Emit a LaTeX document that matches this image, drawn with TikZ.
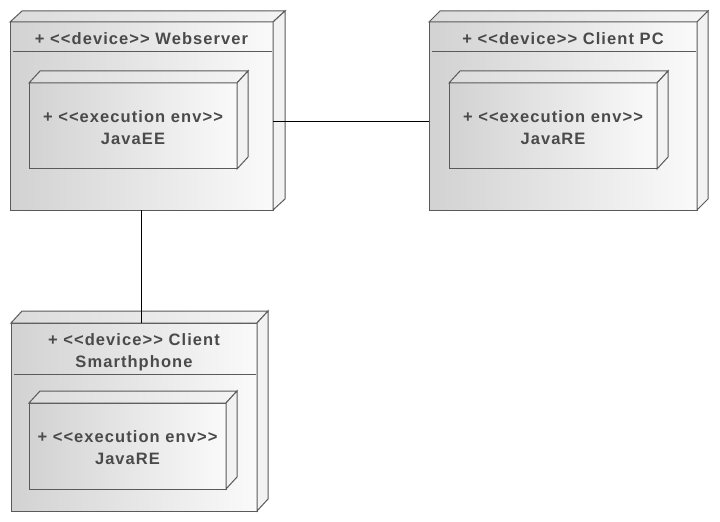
\documentclass[tikz,border=0pt]{standalone}
\usepackage{fontspec}
\newfontfamily\lblfont{Liberation Sans Bold}[LetterSpace=6.5, Ligatures=TeXOff]
\usetikzlibrary{calc}
\definecolor{edgec}{HTML}{5A5A5A}
\definecolor{txtc}{HTML}{4A4A4A}
\definecolor{faceL}{HTML}{D2D2D2}
\definecolor{faceR}{HTML}{FAFAFA}
\definecolor{topL}{HTML}{DCDCDC}
\definecolor{topR}{HTML}{F4F4F4}
\definecolor{sideC}{HTML}{F2F2F2}
\newcommand\extrude[3]{%
  \draw[topface] (#1.north west) -- ++(#2,-#3) -- ($(#1.north east)+(#2,-#3)$) -- (#1.north east) -- cycle;
  \draw[sideface] (#1.north east) -- ++(#2,-#3) -- ($(#1.south east)+(#2,-#3)$) -- (#1.south east) -- cycle;}
\begin{document}
\begin{tikzpicture}[x=1bp,y=-1bp,
  face/.style={draw=edgec, line width=1bp, left color=faceL, right color=faceR, outer sep=0pt, inner sep=0pt, anchor=north west},
  topface/.style={draw=edgec, line width=1bp, left color=topL, right color=topR, line join=miter},
  sideface/.style={draw=edgec, line width=1bp, fill=sideC, line join=miter},
  divider/.style={draw=edgec, line width=1bp},
  lbl/.style={text=txtc, font=\lblfont\fontsize{16.5bp}{22bp}\selectfont, align=center, inner sep=0pt},
  conn/.style={draw=black, line width=1bp}
]
\useasboundingbox (0,0) rectangle (720,522);
\fill[white] (0,0) rectangle (720,522);

% Webserver
\node[face, minimum width=263bp, minimum height=188bp] (ws) at (10,22) {};
\extrude{ws}{12}{11}
\draw[divider] ($(ws.north west)+(3,30)$) -- ($(ws.north east)+(-1,30)$);
\node[lbl] (wst) at ($(ws.north)+(0,17)$) {+ <<device>> Webserver};
\node[face, minimum width=208bp, minimum height=86bp] (jee) at (29,83) {};
\extrude{jee}{11}{12}
\node[lbl] (jeet) at ($(jee.center)+(0,2)$) {+ <<execution env>>\\JavaEE};

% Client PC
\node[face, minimum width=268bp, minimum height=188bp] (pc) at (429,22) {};
\extrude{pc}{11}{11}
\draw[divider] ($(pc.north west)+(3,30)$) -- ($(pc.north east)+(-1,30)$);
\node[lbl] (pct) at ($(pc.north)+(0,17)$) {+ <<device>> Client PC};
\node[face, minimum width=208bp, minimum height=86bp] (jpc) at (449,83) {};
\extrude{jpc}{11}{12}
\node[lbl] (jpct) at ($(jpc.center)+(0,2)$) {+ <<execution env>>\\JavaRE};

% Client Smartphone
\node[face, minimum width=246bp, minimum height=188bp] (sp) at (11,323) {};
\extrude{sp}{11}{12}
\draw[divider] ($(sp.north west)+(3,51)$) -- ($(sp.north east)+(-1,51)$);
\node[lbl] (spt) at ($(sp.north)+(0,29)$) {+ <<device>> Client\\Smarthphone};
\node[face, minimum width=197bp, minimum height=86bp] (jsp) at (29,403) {};
\extrude{jsp}{11}{12}
\node[lbl] (jspt) at ($(jsp.center)+(0,2)$) {+ <<execution env>>\\JavaRE};

% connectors
\coordinate (c1) at ($(ws.north east)+(0,100)$);
\draw[conn] (c1) -- (c1 -| pc.west);
\draw[conn] (ws.south) -- (ws.south |- sp.north);
\end{tikzpicture}
\end{document}
